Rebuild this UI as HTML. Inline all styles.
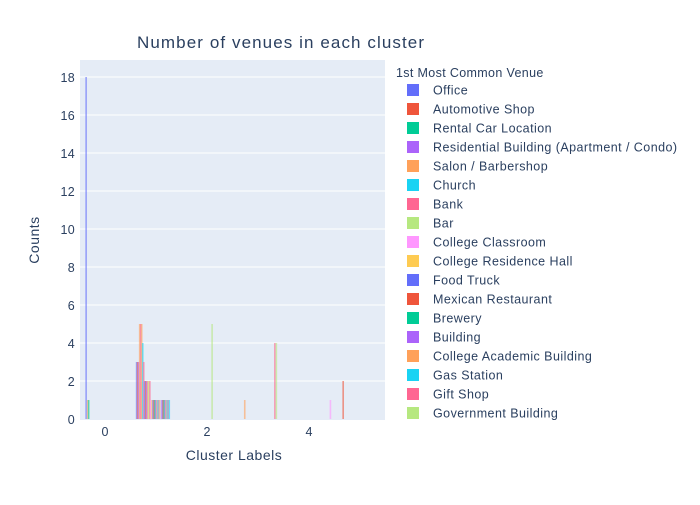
<!DOCTYPE html>
<html><head><meta charset="utf-8"><style>
body{margin:0;background:#fff;font-family:"Liberation Sans",sans-serif;}
svg text{font-family:"Liberation Sans",sans-serif;fill:#2a3f5f;}
</style></head><body>
<svg id="c" width="700" height="500">
<rect x="0" y="0" width="700" height="500" fill="#fff"/>
<rect x="80" y="60" width="305" height="360" fill="#e5ecf6"/>
<g id="grid"></g><g id="bars"></g><g id="ticks"></g>
<text x="137" y="48" font-size="17" textLength="287" lengthAdjust="spacing">Number of venues in each cluster</text>
<text x="234" y="460" font-size="14" text-anchor="middle" letter-spacing="0.5">Cluster Labels</text>
<text x="39" y="240" font-size="14" text-anchor="middle" letter-spacing="0.5" transform="rotate(-90 39 240)">Counts</text>
<g id="legend"></g>
</svg>
<script>
const colors=["#636efa","#EF553B","#00cc96","#ab63fa","#FFA15A","#19d3f3","#FF6692","#B6E880","#FF97FF","#FECB52"];
const legendNames=["Office","Automotive Shop","Rental Car Location","Residential Building (Apartment / Condo)","Salon / Barbershop","Church","Bank","Bar","College Classroom","College Residence Hall","Food Truck","Mexican Restaurant","Brewery","Building","College Academic Building","Gas Station","Gift Shop","Government Building"];
// bar x positions (cluster label units), values, color index
const barX=[-0.37,-0.34,-0.32,0.62,0.64,0.66,0.68,0.70,0.72,0.74,0.76,0.78,0.80,0.82,0.84,0.86,0.88,0.90,0.92,0.94,0.96,0.98,1.00,1.02,1.04,1.06,1.08,1.10,1.12,1.14,1.16,1.18,1.20,1.22,1.24,1.26,2.10,2.74,3.33,3.36,4.42,4.67];
const barVal=[18,1,1,3,3,3,5,5,5,4,3,2,2,2,2,2,2,1,1,1,1,1,1,1,1,1,1,1,1,1,1,1,1,1,1,1,5,1,4,4,1,2];
const barCol=[0,4,2,0,1,3,4,6,4,5,6,0,1,3,4,7,6,8,9,0,1,2,3,4,5,6,7,8,0,1,2,3,4,5,6,5,7,4,6,7,8,1];
const yTicks=[0,2,4,6,8,10,12,14,16,18];
const xTicks=[0,2,4];
const xs=v=>105+51*v, ys=v=>419-19*v;
const NS="http://www.w3.org/2000/svg";
function mk(t,a,p){const e=document.createElementNS(NS,t);for(const k in a)e.setAttribute(k,a[k]);p.appendChild(e);return e;}
const grid=document.getElementById('grid'),ticks=document.getElementById('ticks'),bars=document.getElementById('bars'),leg=document.getElementById('legend');
yTicks.forEach(v=>{
 if(v>0){const l=mk('line',{x1:80,x2:385,y1:ys(v),y2:ys(v),stroke:'#fff','stroke-width':1},grid);
 
 }
 const t=mk('text',{x:75,y:ys(v)+5,'font-size':12.5,'text-anchor':'end','letter-spacing':0.3},ticks);t.textContent=v;
 
 
});
xTicks.forEach(v=>{
 const t=mk('text',{x:xs(v),y:436,'font-size':12.5,'text-anchor':'middle'},ticks);t.textContent=v;
 
 
});
barX.forEach((x,i)=>{
 const r=mk('rect',{x:xs(x)-0.8,y:ys(barVal[i]),width:1.6,height:419-ys(barVal[i]),fill:colors[barCol[i]],opacity:0.6},bars);
 
 
});
const lt=mk('text',{x:396,y:77,'font-size':12.5,'letter-spacing':0.35},leg);lt.textContent="1st Most Common Venue";


legendNames.forEach((n,i)=>{
 const y=90+19*i;
 const g=mk('g',{},leg);
 
 
 mk('rect',{x:407,y:y-6,width:12,height:12,fill:colors[i%10]},g);
 const t=mk('text',{x:433,y:y+4.5,'font-size':12.5,'letter-spacing':0.45},g);t.textContent=n;
});
</script>
</body></html>
